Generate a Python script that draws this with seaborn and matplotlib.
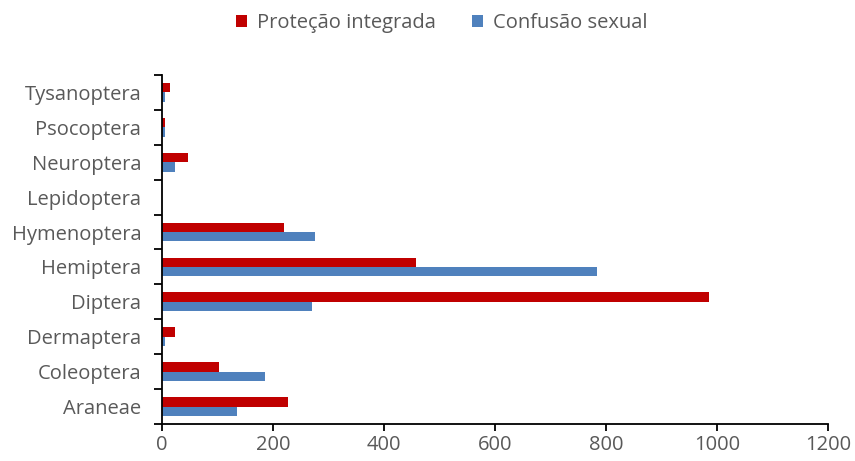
import matplotlib
matplotlib.use("Agg")
import matplotlib.pyplot as plt
import seaborn as sns
import pandas as pd
import numpy as np

# Insect orders, listed bottom to top as drawn
orders = ["Araneae", "Coleoptera", "Dermaptera", "Diptera", "Hemiptera",
          "Hymenoptera", "Lepidoptera", "Neuroptera", "Psocoptera", "Tysanoptera"]
protecao_integrada = [227, 103, 23, 986, 457, 220, 0, 47, 5, 15]
confusao_sexual = [135, 185, 5, 270, 784, 276, 0, 23, 5, 5]
series_names = ["Proteção integrada", "Confusão sexual"]
series_colors = ["#C00000", "#4F81BD"]
x_ticks = [0, 200, 400, 600, 800, 1000, 1200]

df = pd.DataFrame({
    "ordem": orders * 2,
    "valor": protecao_integrada + confusao_sexual,
    "sistema": [series_names[0]] * len(orders) + [series_names[1]] * len(orders),
})

sns.set_theme(style="white")
plt.rcParams["font.family"] = ["Open Sans", "DejaVu Sans"]

FS = 14.5
TXT = "#595959"

fig = plt.figure(figsize=(8.55, 4.61), dpi=100)
ax = fig.add_axes([0.1895, 0.0803, 0.7789, 0.757])

sns.barplot(data=df, x="valor", y="ordem", hue="sistema",
            order=orders[::-1], hue_order=series_names,
            palette=series_colors, orient="h", width=0.54,
            linewidth=0, saturation=1, legend=True, ax=ax)

ax.set_xlim(0, 1200)
ax.set_ylim(len(orders) - 0.5, -0.5)
ax.set_xticks(x_ticks)
ax.set_xticklabels([str(t) for t in x_ticks])
ax.set_xlabel("")
ax.set_ylabel("")

# Category ticks sit on the boundaries between groups
ax.set_yticks(np.arange(len(orders)), labels=orders[::-1])
ax.set_yticks(np.arange(len(orders) + 1) - 0.5, minor=True)
ax.tick_params(axis="y", which="major", length=0, pad=15,
               labelsize=FS, labelcolor=TXT)
ax.tick_params(axis="y", which="minor", length=6, width=1.3,
               color="black", direction="out", left=True)
ax.tick_params(axis="x", which="major", length=5, width=1.3,
               color="black", direction="out", bottom=True,
               labelsize=FS, labelcolor=TXT, pad=3)

for side in ["top", "right"]:
    ax.spines[side].set_visible(False)
for side in ["left", "bottom"]:
    ax.spines[side].set_color("black")
    ax.spines[side].set_linewidth(1.3)

handles, labels = ax.get_legend_handles_labels()
ax.get_legend().remove()
fig.legend(handles, labels, loc="center", bbox_to_anchor=(0.517, 0.950),
           ncol=2, frameon=False, fontsize=FS, handlelength=0.55,
           handleheight=0.55, handletextpad=0.5, columnspacing=1.8,
           labelcolor=TXT)

fig.savefig("out.png", dpi=100)
